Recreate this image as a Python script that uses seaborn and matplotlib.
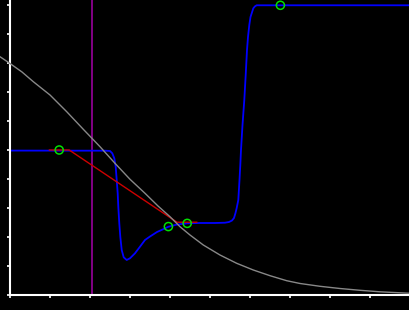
import matplotlib
matplotlib.use("Agg")
import matplotlib.pyplot as plt
import seaborn as sns
import pandas as pd

# Gray decaying curve
gray_x = [-0.25, 0.0175, 0.30, 0.583, 1.0, 1.4175, 1.8325, 2.25, 2.625, 3.0, 3.375, 3.7,
          4.0, 4.25, 4.5, 4.8325, 5.25, 5.6675, 6.0825, 6.5, 6.9175, 7.25, 7.75, 8.25,
          8.75, 9.25, 10.0]
gray_y = [8.217, 7.966, 7.69, 7.355, 6.897, 6.321, 5.714, 5.114, 4.541, 3.990, 3.507,
          3.069, 2.700, 2.355, 2.069, 1.724, 1.379, 1.093, 0.862, 0.666, 0.493, 0.397,
          0.300, 0.224, 0.162, 0.110, 0.059]

# Blue interpolated curve
blue_x = [0.0, 2.375, 2.5, 2.5575, 2.6075, 2.6425, 2.6675, 2.6925, 2.7075, 2.7325,
          2.7575, 2.7925, 2.8425, 2.9175, 3.0, 3.125, 3.25, 3.375, 3.5, 3.675, 3.825,
          3.9575, 4.175, 4.4325, 4.75, 5.125, 5.375, 5.475, 5.55, 5.6, 5.6375, 5.6675,
          5.7075, 5.7375, 5.7575, 5.775, 5.8125, 5.8575, 5.8925, 5.925, 5.95, 5.9825,
          6.0125, 6.0425, 6.0825, 6.125, 6.1675, 10.0]
blue_y = [4.98, 4.976, 4.966, 4.886, 4.714, 4.424, 3.966, 3.507, 3.045, 2.472,
          2.010, 1.552, 1.300, 1.207, 1.266, 1.438, 1.666, 1.897, 2.017, 2.172, 2.266,
          2.352, 2.431, 2.472, 2.483, 2.483, 2.493, 2.517, 2.569, 2.655, 2.828, 3.0,
          3.276, 3.966, 4.483, 5.0, 5.862, 6.724, 7.586, 8.448, 8.897, 9.310,
          9.586, 9.714, 9.886, 9.955, 9.990, 9.990]

# Red tangent polyline
red_x = [0.98, 1.48, 4.175, 4.675]
red_y = [5.0, 5.0, 2.51, 2.51]

# Green control points
pts_x = [1.23, 3.96, 4.43, 6.76]
pts_y = [5.0, 2.36, 2.47, 9.99]

# Vertical purple marker
vline_x = 2.06

x_ticks = list(range(0, 11))
y_ticks = list(range(0, 11))

sns.set_style("dark")
fig = plt.figure(figsize=(4.1, 3.1), dpi=100, facecolor="black")
ax = fig.add_axes([0, 15 / 310, 1, 295 / 310])
ax.set_facecolor("black")

gray_df = pd.DataFrame({"x": gray_x, "y": gray_y})
blue_df = pd.DataFrame({"x": blue_x, "y": blue_y})
red_df = pd.DataFrame({"x": red_x, "y": red_y})
pts_df = pd.DataFrame({"x": pts_x, "y": pts_y})

ax.axvline(vline_x, color="#8c0090", lw=1.3, zorder=1)
sns.lineplot(data=blue_df, x="x", y="y", sort=False, estimator=None, color="#0000ff",
             lw=1.3, ax=ax, zorder=2)
sns.lineplot(data=red_df, x="x", y="y", sort=False, estimator=None, color="#cc0000",
             lw=1.0, ax=ax, zorder=3)
sns.lineplot(data=gray_df, x="x", y="y", sort=False, estimator=None, color="#888888",
             lw=1.0, ax=ax, zorder=4)
sns.scatterplot(data=pts_df, x="x", y="y", marker="o", s=34, facecolors="none",
                edgecolors="#00e000", linewidth=1.1, ax=ax, zorder=5)

ax.set_xlim(-0.25, 10.0)
ax.set_ylim(0, 295 / 29)
ax.set_xticks(x_ticks)
ax.set_yticks(y_ticks)
ax.set_xticklabels([])
ax.set_yticklabels([])
ax.set_xlabel("")
ax.set_ylabel("")
ax.grid(False)

for s in ["top", "right"]:
    ax.spines[s].set_visible(False)
ax.spines["left"].set_position(("data", 0))
ax.spines["bottom"].set_bounds(0, 10)
for s in ["left", "bottom"]:
    ax.spines[s].set_visible(True)
    ax.spines[s].set_color("white")
    ax.spines[s].set_linewidth(1.5)
ax.tick_params(axis="both", which="major", direction="out", length=2.5, width=1.2,
               color="white", left=True, bottom=True)

fig.savefig("out.png", dpi=100, facecolor="black")
